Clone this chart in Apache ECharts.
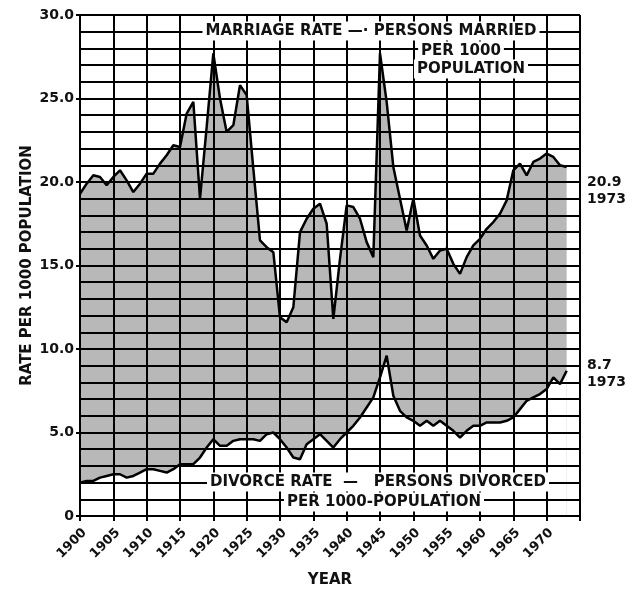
<!DOCTYPE html>
<html>
<head>
<meta charset="utf-8">
<script src="https://cdn.jsdelivr.net/npm/echarts@6/dist/echarts.min.js"></script>
<style>
  html, body { margin: 0; padding: 0; background: #fff; }
  #main { width: 632px; height: 589px; }
</style>
</head>
<body>
<div id="main"></div>
<script>
// years plotted
var years = [1900,1901,1902,1903,1904,1905,1906,1907,1908,1909,
  1910,1911,1912,1913,1914,1915,1916,1917,1918,1919,
  1920,1921,1922,1923,1924,1925,1926,1927,1928,1929,
  1930,1931,1932,1933,1934,1935,1936,1937,1938,1939,
  1940,1941,1942,1943,1944,1945,1946,1947,1948,1949,
  1950,1951,1952,1953,1954,1955,1956,1957,1958,1959,
  1960,1961,1962,1963,1964,1965,1966,1967,1968,1969,
  1970,1971,1972,1973];

// persons married per 1000 population
var marriage = [19.3,19.9,20.4,20.3,19.8,20.3,20.7,20.1,19.4,19.9,
  20.5,20.5,21.1,21.6,22.2,22.1,24.1,24.8,19.0,23.3,
  27.7,25.0,23.0,23.4,25.8,25.2,20.8,16.5,16.1,15.8,
  11.9,11.6,12.5,17.0,17.8,18.4,18.7,17.5,11.8,15.4,
  18.6,18.5,17.8,16.4,15.5,27.7,24.8,20.9,19.0,17.1,
  19.0,16.8,16.2,15.4,15.9,16.0,15.1,14.5,15.5,16.2,
  16.6,17.2,17.6,18.1,18.9,20.7,21.1,20.4,21.2,21.4,
  21.7,21.5,21.0,20.9];

// persons divorced per 1000 population
var divorce = [2.0,2.1,2.1,2.3,2.4,2.5,2.5,2.3,2.4,2.6,
  2.8,2.8,2.7,2.6,2.8,3.1,3.1,3.1,3.5,4.1,
  4.6,4.2,4.2,4.5,4.6,4.6,4.6,4.5,4.9,5.0,
  4.6,4.1,3.5,3.4,4.3,4.6,4.9,4.5,4.1,4.6,
  5.0,5.4,5.9,6.5,7.1,8.3,9.6,7.2,6.3,5.9,
  5.7,5.4,5.7,5.4,5.7,5.4,5.1,4.7,5.1,5.4,
  5.4,5.6,5.6,5.6,5.7,5.9,6.4,6.9,7.1,7.3,
  7.6,8.3,7.9,8.7];

var font = 'bold 15px "DejaVu Sans"';

var myChart = echarts.init(document.getElementById('main'));

var marData = years.map(function (y, i) { return [y, marriage[i]]; });
var divData = years.map(function (y, i) { return [y, divorce[i]]; });

function label(text, x, y) {
  return {
    type: 'text', z: 100,
    style: {
      text: text, x: x, y: y,
      textAlign: 'center', textVerticalAlign: 'middle',
      font: font, fill: '#111',
      backgroundColor: '#fff', padding: [2, 3]
    }
  };
}

var option = {
  animation: false,
  backgroundColor: '#fff',
  grid: { left: 80, right: 52, top: 15, bottom: 73, outerBoundsMode: 'none', containLabel: false },
  xAxis: {
    type: 'value', min: 1900, max: 1975, interval: 5, z: 3,
    name: 'YEAR', nameLocation: 'middle', nameGap: 57,
    nameTextStyle: { fontWeight: 'bold', fontSize: 15, fontFamily: 'DejaVu Sans', color: '#111' },
    axisLine: { show: true, lineStyle: { color: '#000', width: 2 } },
    axisTick: { show: true, length: 5, lineStyle: { color: '#000', width: 2 } },
    axisLabel: {
      rotate: 45, margin: 10, color: '#111', fontWeight: 'bold', fontSize: 13,
      fontFamily: 'DejaVu Sans', verticalAlign: 'top',
      formatter: function (v) { return v === 1975 ? '' : String(v); }
    },
    splitLine: { show: true, lineStyle: { color: '#000', width: 2 } }
  },
  yAxis: {
    type: 'value', min: 0, max: 30, interval: 5, z: 3,
    name: 'RATE PER 1000 POPULATION', nameLocation: 'middle', nameGap: 45,
    nameMoveOverlap: false,
    nameTextStyle: { fontWeight: 'bold', fontSize: 15, fontFamily: 'DejaVu Sans', color: '#111' },
    axisLine: { show: true, lineStyle: { color: '#000', width: 2 } },
    axisTick: { show: true, length: 4, lineStyle: { color: '#000', width: 2 } },
    axisLabel: {
      margin: 6, color: '#111', fontWeight: 'bold', fontSize: 14,
      fontFamily: 'DejaVu Sans',
      formatter: function (v) { return v === 0 ? '0' : v.toFixed(1); }
    },
    splitLine: { show: true, lineStyle: { color: '#000', width: 2 } },
    minorTick: { show: false, splitNumber: 5 },
    minorSplitLine: { show: true, lineStyle: { color: '#000', width: 2 } }
  },
  series: [
    {
      name: 'marriage', type: 'line', data: marData,
      symbol: 'none', z: 1,
      lineStyle: { color: '#000', width: 2.5 },
      areaStyle: { color: '#b8b8b8', opacity: 1 }
    },
    {
      name: 'divorce', type: 'line', data: divData,
      symbol: 'none', z: 2,
      lineStyle: { color: '#000', width: 2.5 },
      areaStyle: { color: '#fff', opacity: 1 }
    }
  ],
  graphic: [
    label('MARRIAGE RATE —· PERSONS MARRIED', 371, 31),
    label('PER 1000', 461, 51),
    label('POPULATION', 471, 69),
    label('DIVORCE RATE  —   PERSONS DIVORCED', 378, 482),
    label('PER 1000-POPULATION', 384, 502),
    { type: 'text', z: 100, style: { text: '20.9\n1973', x: 587, y: 174, font: 'bold 14px "DejaVu Sans"', fill: '#111', lineHeight: 17 } },
    { type: 'text', z: 100, style: { text: '8.7\n1973', x: 587, y: 357, font: 'bold 14px "DejaVu Sans"', fill: '#111', lineHeight: 17 } }
  ]
};

myChart.setOption(option);
</script>
</body>
</html>
